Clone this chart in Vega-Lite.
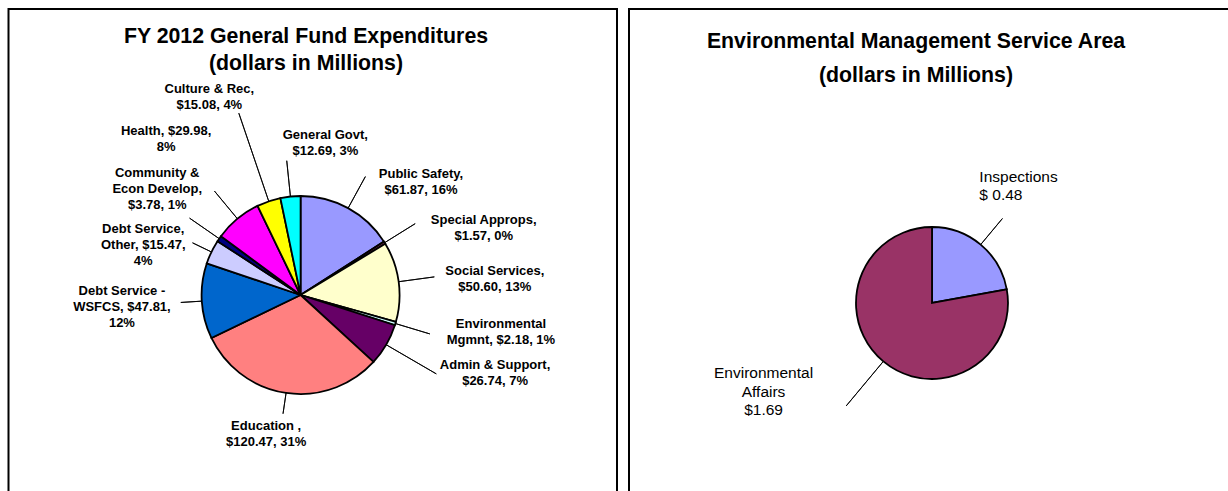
{
  "$schema": "https://vega.github.io/schema/vega-lite/v6.json",
  "background": "white",
  "padding": {"left": 7.5, "top": 8, "right": 0, "bottom": 0},
  "spacing": 9.5,
  "config": {"view": {"stroke": "black", "strokeWidth": 2}, "font": "Liberation Sans"},
  "datasets": {
    "general": [
      {"i": 1, "cat": "Public Safety", "v": 61.87, "label": "Public Safety,\n$61.87, 16%", "chart": "General Fund"},
      {"i": 2, "cat": "Special Approps", "v": 1.57, "label": "Special Approps,\n$1.57, 0%", "chart": "General Fund"},
      {"i": 3, "cat": "Social Services", "v": 50.60, "label": "Social Services,\n$50.60, 13%", "chart": "General Fund"},
      {"i": 4, "cat": "Environmental Mgmnt", "v": 2.18, "label": "Environmental\nMgmnt, $2.18, 1%", "chart": "General Fund"},
      {"i": 5, "cat": "Admin & Support", "v": 26.74, "label": "Admin & Support,\n$26.74, 7%", "chart": "General Fund"},
      {"i": 6, "cat": "Education", "v": 120.47, "label": "Education ,\n$120.47, 31%", "chart": "General Fund"},
      {"i": 7, "cat": "Debt Service - WSFCS", "v": 47.81, "label": "Debt Service -\nWSFCS, $47.81,\n12%", "chart": "General Fund"},
      {"i": 8, "cat": "Debt Service, Other", "v": 15.47, "label": "Debt Service,\nOther, $15.47,\n4%", "chart": "General Fund"},
      {"i": 9, "cat": "Community & Econ Develop", "v": 3.78, "label": "Community &\nEcon Develop,\n$3.78, 1%", "chart": "General Fund"},
      {"i": 10, "cat": "Health", "v": 29.98, "label": "Health, $29.98,\n8%", "chart": "General Fund"},
      {"i": 11, "cat": "Culture & Rec", "v": 15.08, "label": "Culture & Rec,\n$15.08, 4%", "chart": "General Fund"},
      {"i": 12, "cat": "General Govt", "v": 12.69, "label": "General Govt,\n$12.69, 3%", "chart": "General Fund"}
    ],
    "env": [
      {"i": 1, "cat": "Inspections", "v": 0.48, "label": "Inspections\n$ 0.48", "chart": "Environmental Management"},
      {"i": 2, "cat": "Environmental Affairs", "v": 1.69, "label": "Environmental\nAffairs\n$1.69", "chart": "Environmental Management"}
    ]
  },
  "resolve": {"scale": {"color": "independent", "theta": "independent", "x": "independent", "y": "independent"}},
  "hconcat": [
    {
      "width": 608.5,
      "height": 572,
      "title": {"text": ["FY 2012 General Fund Expenditures", "(dollars in Millions)"], "font": "Liberation Sans", "fontSize": 21.3, "fontWeight": "bold", "lineHeight": 27, "color": "black", "anchor": "middle", "offset": -65, "dx": -6.75},
      "data": {"name": "general"},
      "encoding": {
        "theta": {"field": "v", "type": "quantitative", "stack": true},
        "order": {"field": "i", "type": "quantitative"},
        "detail": {"field": "cat", "type": "nominal"},
        "x": {"field": "chart", "type": "nominal", "axis": null, "scale": {"type": "point", "align": 0.48}},
        "y": {"field": "chart", "type": "nominal", "axis": null, "scale": {"type": "point"}}
      },
      "layer": [
        {
          "mark": {"type": "arc", "radius": 99, "stroke": "black", "strokeWidth": 1.8},
          "encoding": {
            "color": {"field": "cat", "type": "nominal", "legend": null,
              "scale": {"domain": ["Public Safety", "Special Approps", "Social Services", "Environmental Mgmnt", "Admin & Support", "Education", "Debt Service - WSFCS", "Debt Service, Other", "Community & Econ Develop", "Health", "Culture & Rec", "General Govt"],
                        "range": ["#9999FF", "#993366", "#FFFFCC", "#CCFFFF", "#660066", "#FF8080", "#0066CC", "#CCCCFF", "#000080", "#FF00FF", "#FFFF00", "#00FFFF"]}}
          }
        },
        {
          "mark": {"type": "arc", "radius": 135, "radius2": 99, "padAngle": 3, "filled": false, "stroke": "black", "strokeWidth": 0.9},
          "encoding": {"strokeOpacity": {"condition": {"test": "indexof(['Public Safety','Special Approps','Social Services','Environmental Mgmnt','Community & Econ Develop','General Govt','Health'], datum.cat) >= 0", "value": 1}, "value": 0}}
        },
        {
          "mark": {"type": "arc", "radius": 157, "radius2": 99, "padAngle": 3, "filled": false, "stroke": "black", "strokeWidth": 0.9},
          "encoding": {"strokeOpacity": {"condition": {"test": "datum.cat === 'Admin & Support'", "value": 1}, "value": 0}}
        },
        {
          "mark": {"type": "arc", "radius": 120, "radius2": 99, "padAngle": 3, "filled": false, "stroke": "black", "strokeWidth": 0.9},
          "encoding": {"strokeOpacity": {"condition": {"test": "indexof(['Education','Debt Service - WSFCS','Debt Service, Other'], datum.cat) >= 0", "value": 1}, "value": 0}}
        },
        {
          "mark": {"type": "arc", "radius": 192, "radius2": 99, "padAngle": 3, "filled": false, "stroke": "black", "strokeWidth": 0.9},
          "encoding": {"strokeOpacity": {"condition": {"test": "datum.cat === 'Culture & Rec'", "value": 1}, "value": 0}}
        },
        {"mark": {"type": "text", "radius": 157, "dx": 45, "dy": 17, "align": "center", "baseline": "middle", "fontWeight": "bold", "fontSize": 13, "lineHeight": 16, "lineBreak": "\n", "color": "black"},
         "encoding": {"text": {"condition": {"test": "datum.cat === 'Public Safety'", "field": "label", "type": "nominal"}, "value": ""}}},
        {"mark": {"type": "text", "radius": 191, "dx": 21, "dy": 26, "align": "center", "baseline": "middle", "fontWeight": "bold", "fontSize": 13, "lineHeight": 16, "lineBreak": "\n", "color": "black"},
         "encoding": {"text": {"condition": {"test": "datum.cat === 'Special Approps'", "field": "label", "type": "nominal"}, "value": ""}}},
        {"mark": {"type": "text", "radius": 195, "dx": 1, "dy": 2, "align": "center", "baseline": "middle", "fontWeight": "bold", "fontSize": 13, "lineHeight": 16, "lineBreak": "\n", "color": "black"},
         "encoding": {"text": {"condition": {"test": "datum.cat === 'Social Services'", "field": "label", "type": "nominal"}, "value": ""}}},
        {"mark": {"type": "text", "radius": 203, "dx": 6, "dy": -29.5, "align": "center", "baseline": "middle", "fontWeight": "bold", "fontSize": 13, "lineHeight": 16, "lineBreak": "\n", "color": "black"},
         "encoding": {"text": {"condition": {"test": "datum.cat === 'Environmental Mgmnt'", "field": "label", "type": "nominal"}, "value": ""}}},
        {"mark": {"type": "text", "radius": 207, "dx": 15.5, "dy": -34.5, "align": "center", "baseline": "middle", "fontWeight": "bold", "fontSize": 13, "lineHeight": 16, "lineBreak": "\n", "color": "black"},
         "encoding": {"text": {"condition": {"test": "datum.cat === 'Admin & Support'", "field": "label", "type": "nominal"}, "value": ""}}},
        {"mark": {"type": "text", "radius": 143, "dx": -13.5, "dy": -10, "align": "center", "baseline": "middle", "fontWeight": "bold", "fontSize": 13, "lineHeight": 16, "lineBreak": "\n", "color": "black"},
         "encoding": {"text": {"condition": {"test": "datum.cat === 'Education'", "field": "label", "type": "nominal"}, "value": ""}}},
        {"mark": {"type": "text", "radius": 179, "dx": 0, "dy": -15, "align": "center", "baseline": "middle", "fontWeight": "bold", "fontSize": 13, "lineHeight": 16, "lineBreak": "\n", "color": "black"},
         "encoding": {"text": {"condition": {"test": "datum.cat === 'Debt Service - WSFCS'", "field": "label", "type": "nominal"}, "value": ""}}},
        {"mark": {"type": "text", "radius": 163.6, "dx": -10, "dy": 5, "align": "center", "baseline": "middle", "fontWeight": "bold", "fontSize": 13, "lineHeight": 16, "lineBreak": "\n", "color": "black"},
         "encoding": {"text": {"condition": {"test": "datum.cat === 'Debt Service, Other'", "field": "label", "type": "nominal"}, "value": ""}}},
        {"mark": {"type": "text", "radius": 178, "dx": 3, "dy": -20.5, "align": "center", "baseline": "middle", "fontWeight": "bold", "fontSize": 13, "lineHeight": 16, "lineBreak": "\n", "color": "black"},
         "encoding": {"text": {"condition": {"test": "datum.cat === 'Community & Econ Develop'", "field": "label", "type": "nominal"}, "value": ""}}},
        {"mark": {"type": "text", "radius": 206, "dx": -3, "dy": -5.5, "align": "center", "baseline": "middle", "fontWeight": "bold", "fontSize": 13, "lineHeight": 16, "lineBreak": "\n", "color": "black"},
         "encoding": {"text": {"condition": {"test": "datum.cat === 'Health'", "field": "label", "type": "nominal"}, "value": ""}}},
        {"mark": {"type": "text", "radius": 217, "dx": -21.5, "dy": -0.5, "align": "center", "baseline": "middle", "fontWeight": "bold", "fontSize": 13, "lineHeight": 16, "lineBreak": "\n", "color": "black"},
         "encoding": {"text": {"condition": {"test": "datum.cat === 'Culture & Rec'", "field": "label", "type": "nominal"}, "value": ""}}},
        {"mark": {"type": "text", "radius": 149, "dx": 40, "dy": -12, "align": "center", "baseline": "middle", "fontWeight": "bold", "fontSize": 13, "lineHeight": 16, "lineBreak": "\n", "color": "black"},
         "encoding": {"text": {"condition": {"test": "datum.cat === 'General Govt'", "field": "label", "type": "nominal"}, "value": ""}}}
      ]
    },
    {
      "width": 620,
      "height": 588,
      "title": {"text": ["Environmental Management Service Area", "(dollars in Millions)"], "font": "Liberation Sans", "fontSize": 21.3, "fontWeight": "bold", "lineHeight": 34, "color": "black", "anchor": "middle", "offset": -77, "dx": -23},
      "data": {"name": "env"},
      "resolve": {"scale": {"theta": "independent"}},
      "encoding": {
        "theta": {"field": "v", "type": "quantitative", "stack": true},
        "order": {"field": "i", "type": "quantitative"},
        "detail": {"field": "cat", "type": "nominal"},
        "x": {"field": "chart", "type": "nominal", "axis": null, "scale": {"type": "point", "align": 0.4887}},
        "y": {"field": "chart", "type": "nominal", "axis": null, "scale": {"type": "point"}}
      },
      "layer": [
        {
          "mark": {"type": "arc", "radius": 76, "stroke": "black", "strokeWidth": 1.8},
          "encoding": {
            "color": {"field": "cat", "type": "nominal", "legend": null,
              "scale": {"domain": ["Inspections", "Environmental Affairs"], "range": ["#9999FF", "#993366"]}}
          }
        },
        {
          "mark": {"type": "arc", "radius": 110, "radius2": 76, "padAngle": 3, "filled": false, "stroke": "black", "strokeWidth": 0.9},
          "encoding": {"strokeOpacity": {"condition": {"test": "datum.cat === 'Inspections'", "value": 1}, "value": 0}}
        },
        {
          "mark": {"type": "arc", "radius": 134, "radius2": 76, "padAngle": 3, "filled": false, "stroke": "black", "strokeWidth": 0.9},
          "encoding": {
            "theta": {"field": "v", "type": "quantitative", "stack": true, "scale": {"range": [1.918, 5.060]}},
            "strokeOpacity": {"condition": {"test": "datum.cat === 'Environmental Affairs'", "value": 1}, "value": 0}
          }
        },
        {"mark": {"type": "text", "radius": 120, "dx": -29.5, "dy": -33.85, "align": "left", "baseline": "middle", "fontSize": 15.5, "lineHeight": 18.5, "lineBreak": "\n", "color": "black"},
         "encoding": {"text": {"condition": {"test": "datum.cat === 'Inspections'", "field": "label", "type": "nominal"}, "value": ""}}},
        {"mark": {"type": "text", "radius": 175.6, "dx": -56, "dy": -64.5, "align": "center", "baseline": "middle", "fontSize": 15.5, "lineHeight": 18.5, "lineBreak": "\n", "color": "black"},
         "encoding": {"text": {"condition": {"test": "datum.cat === 'Environmental Affairs'", "field": "label", "type": "nominal"}, "value": ""}}}
      ]
    }
  ]
}
